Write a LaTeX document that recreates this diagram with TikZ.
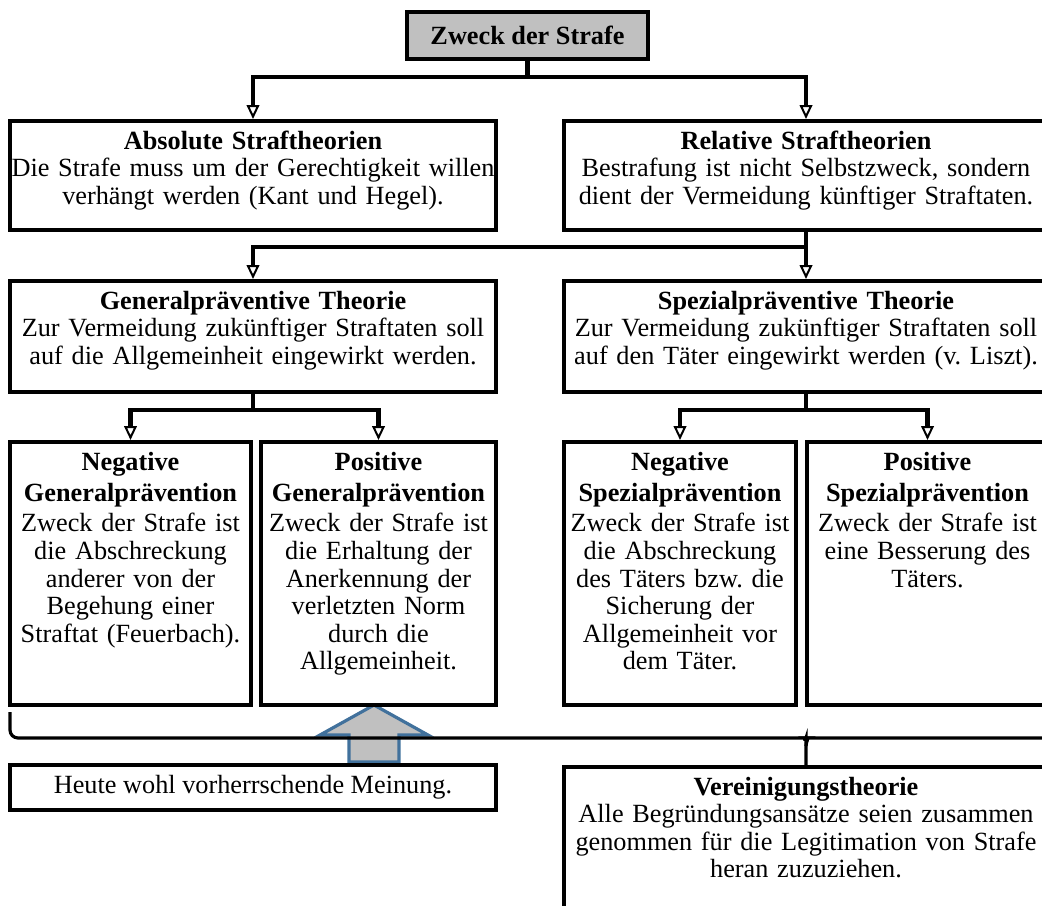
\documentclass[tikz,border=0pt]{standalone}
\usepackage{fontspec}
\setmainfont{Liberation Serif}
\usetikzlibrary{arrows.meta}
\usetikzlibrary{positioning}

\definecolor{headgray}{RGB}{192,192,192}
\definecolor{arrowblue}{RGB}{65,113,156}
\frenchspacing

\begin{document}
\begin{tikzpicture}[x=0.75pt, y=-0.75pt,
    every node/.style={font=\fontsize{19.7pt}{20.7pt}\selectfont},
    box/.style={draw, line width=3pt, align=center, anchor=north,
      inner xsep=0pt, inner ysep=7.5pt, text height=13.5pt},
    plainbox/.style={draw, line width=3pt, inner sep=0pt},
    headbox/.style={plainbox, fill=headgray, minimum width=180.75pt,
      minimum height=35.25pt, font=\fontsize{19.7pt}{20.7pt}\selectfont\bfseries},
    conn/.style={line width=3.2pt,
      -{Triangle[open, length=10.5pt, width=9.5pt, line width=1.5pt]}},
    braceline/.style={line width=2.4pt, rounded corners=6pt},
    bigarrow/.style={draw=arrowblue, fill=headgray, line width=2.4pt, line join=miter}
  ]
  \useasboundingbox (0,0) rectangle (1042,906);
  \clip (0,0) rectangle (1042,906);

  % arrow to the prevailing opinion
  \coordinate (arrowTip) at (374,705);
  \draw[bigarrow] (arrowTip) -- ++(54,30) -- ++(-29,0) -- ++(0,27)
    -- ++(-50,0) -- ++(0,-27) -- ++(-29,0) -- cycle;

  \node[headbox] (top) at (527.5,35.5) {Zweck der Strafe};

  \node[box, text width=364.5pt, text depth=53.25pt] (abs) at (253,119)
    {\textbf{Absolute Straftheorien}\\Die Strafe muss um der Gerechtigkeit willen\\verhängt werden (Kant und Hegel).};
  \node[box, text width=363pt, text depth=53.25pt] (rel) at (806,119)
    {\textbf{Relative Straftheorien}\\Bestrafung ist nicht Selbstzweck, sondern\\dient der Vermeidung künftiger Straftaten.};

  \node[box, text width=364.5pt, text depth=54.75pt] (gen) at (253,279)
    {\textbf{Generalpräventive Theorie}\\Zur Vermeidung zukünftiger Straftaten soll\\auf die Allgemeinheit eingewirkt werden.};
  \node[box, text width=363pt, text depth=54.75pt] (spz) at (806,279)
    {\textbf{Spezialpräventive Theorie}\\Zur Vermeidung zukünftiger Straftaten soll\\auf den Täter eingewirkt werden (v. Liszt).};

  \node[box, text width=180.75pt, text depth=168.75pt] (ng) at (130.5,440)
    {\textbf{Negative}\\[3pt]\textbf{Generalprävention}\\[2pt]Zweck der Strafe ist\\die Abschreckung\\anderer von der\\Begehung einer\\Straftat (Feuerbach).};
  \node[box, text width=176.25pt, text depth=168.75pt] (pg) at (378.5,440)
    {\textbf{Positive}\\[3pt]\textbf{Generalprävention}\\[2pt]Zweck der Strafe ist\\die Erhaltung der\\Anerkennung der\\verletzten Norm\\durch die\\Allgemeinheit.};
  \node[box, text width=174pt, text depth=168.75pt] (ns) at (680,440)
    {\textbf{Negative}\\[3pt]\textbf{Spezialprävention}\\[2pt]Zweck der Strafe ist\\die Abschreckung\\des Täters bzw. die\\Sicherung der\\Allgemeinheit vor\\dem Täter.};
  \node[box, text width=180.75pt, text depth=168.75pt] (ps) at (927.5,440)
    {\textbf{Positive}\\[3pt]\textbf{Spezialprävention}\\[2pt]Zweck der Strafe ist\\eine Besserung des\\Täters.};

  \node[plainbox, minimum width=364.5pt, minimum height=33.75pt] (heute) at (253,787.5)
    {Heute wohl vorherrschende Meinung.};
  \node[box, text width=363pt, text depth=121.5pt] (ver) at (806,765)
    {\textbf{Vereinigungstheorie}\\Alle Begründungsansätze seien zusammen\\genommen für die Legitimation von Strafe\\heran zuzuziehen.};

  % tree connectors
  \draw[conn] (top.south) -- ++(0,16) -| (abs.north);
  \draw[conn] (top.south) -- ++(0,16) -| (rel.north);
  \draw[conn] (rel.south) -- ++(0,15) -| (gen.north);
  \draw[conn] (rel.south) -- (spz.north);
  \draw[conn] (gen.south) -- ++(0,16) -| (ng.north);
  \draw[conn] (gen.south) -- ++(0,16) -| (pg.north);
  \draw[conn] (spz.south) -- ++(0,16) -| (ns.north);
  \draw[conn] (spz.south) -- ++(0,16) -| (ps.north);

  % brace under all theories
  \coordinate (braceL) at (10,712);
  \coordinate (braceM) at ([yshift=20.25pt]ver.north);
  \draw[braceline] (braceL) |- ([xshift=-6pt]braceM)
    to[out=0,in=90] ([yshift=-6pt]braceM) -- (ver.north);
  \draw[braceline] ([yshift=-6pt]braceM) to[out=90,in=180] ([xshift=6pt]braceM)
    -- ++(300,0);
\end{tikzpicture}
\end{document}
